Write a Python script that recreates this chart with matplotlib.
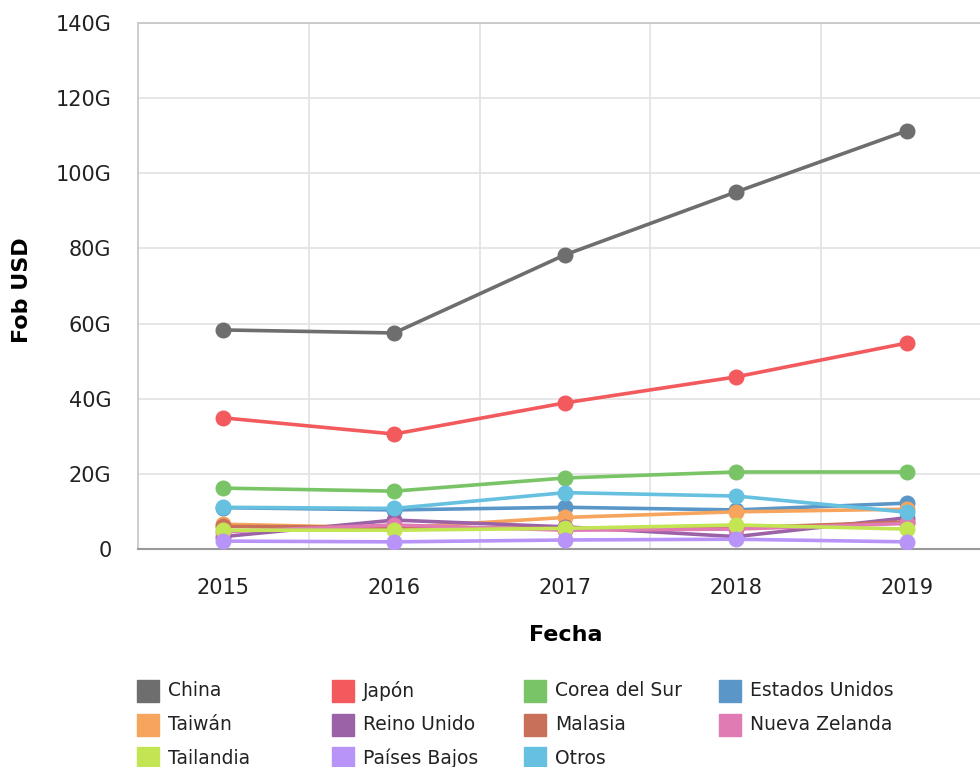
import matplotlib
matplotlib.use("Agg")
import matplotlib.pyplot as plt
from matplotlib.patches import Rectangle
from matplotlib.ticker import FuncFormatter

# exports FOB by destination, billions USD
years = ["2015", "2016", "2017", "2018", "2019"]
countries = ["China", "Japón", "Corea del Sur", "Estados Unidos",
             "Taiwán", "Reino Unido", "Malasia", "Nueva Zelanda",
             "Tailandia", "Países Bajos", "Otros"]
china = [58.3, 57.5, 78.3, 95.0, 111.3]
japon = [34.9, 30.6, 38.9, 45.8, 54.8]
corea = [16.2, 15.4, 18.9, 20.5, 20.5]
eeuu = [11.0, 10.4, 11.1, 10.4, 12.2]
taiwan = [6.6, 5.6, 8.4, 9.9, 10.6]
reino_unido = [3.3, 7.7, 5.9, 3.3, 8.3]
malasia = [6.0, 5.8, 5.4, 5.6, 7.2]
nueva_zelanda = [4.6, 6.4, 5.0, 5.3, 6.8]
tailandia = [5.0, 5.0, 5.5, 6.4, 5.3]
paises_bajos = [2.1, 1.9, 2.4, 2.6, 1.9]
otros = [11.1, 10.8, 15.0, 14.1, 9.8]
series = [china, japon, corea, eeuu, taiwan, reino_unido, malasia,
          nueva_zelanda, tailandia, paises_bajos, otros]
colors = ["#6e6e6e", "#f25a5e", "#78c466", "#5b96c8", "#f7a45c",
          "#9c62a8", "#c9705b", "#e07bb4", "#c3e453", "#b894f8", "#66c0e0"]
y_ticks = [0, 20, 40, 60, 80, 100, 120, 140]

fig = plt.figure(figsize=(9.8, 7.67), dpi=100)
ax = fig.add_axes([138 / 980, 1 - 549 / 767, (992 - 138) / 980, (549 - 23) / 767])

x = list(range(len(years)))
for vals, c in zip(series, colors):
    ax.plot(x, vals, color=c, lw=2.6, marker="o", ms=10.5, zorder=3,
            solid_capstyle="round")

ax.set_xlim(-0.5, len(years) - 0.5)
ax.set_ylim(0, 140)
ax.set_yticks(y_ticks)
ax.yaxis.set_major_formatter(FuncFormatter(lambda v, p: "0" if v == 0 else f"{int(v)}G"))
ax.set_xticks(x)
ax.set_xticklabels(years)
ax.set_xticks([i + 0.5 for i in x[:-1]], minor=True)

ax.grid(True, axis="y", color="#e2e2e2", lw=1.2)
ax.grid(True, axis="x", which="minor", color="#e2e2e2", lw=1.2)
ax.set_axisbelow(True)
ax.tick_params(axis="both", which="both", length=0, labelsize=15, colors="#222222")
ax.tick_params(axis="y", pad=19)
ax.tick_params(axis="x", pad=21)

for s in ["left", "top", "right"]:
    ax.spines[s].set_color("#c8c8c8")
    ax.spines[s].set_linewidth(1.3)
ax.spines["bottom"].set_color("#999999")
ax.spines["bottom"].set_linewidth(1.5)

fig.text(22 / 980, 1 - 290 / 767, "Fob USD", rotation=90, fontsize=16,
         fontweight="bold", ha="center", va="center")
fig.text(566 / 980, 1 - 635 / 767, "Fecha", fontsize=16,
         fontweight="bold", ha="center", va="center")

# legend drawn by hand, 4 columns
col_x = [137, 332, 524, 719]
row_y = [691, 725, 758]
for i, (name, c) in enumerate(zip(countries, colors)):
    cx = col_x[i % 4]
    cy = row_y[i // 4]
    fig.add_artist(Rectangle((cx / 980, 1 - (cy + 11) / 767), 22 / 980, 22 / 767,
                             transform=fig.transFigure, color=c))
    fig.text((cx + 31) / 980, 1 - cy / 767, name, fontsize=13.5,
             color="#222222", ha="left", va="center")

fig.savefig("out.png", dpi=100)
